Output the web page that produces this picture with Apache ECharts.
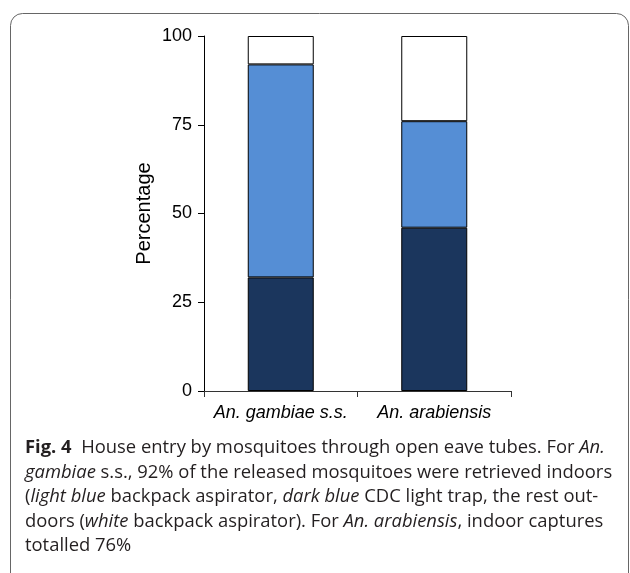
<!DOCTYPE html>
<html>
<head>
<meta charset="utf-8">
<script src="https://cdn.jsdelivr.net/npm/echarts@6/dist/echarts.min.js"></script>
<style>
html,body{margin:0;padding:0;background:#fff;}
#chart{width:630px;height:573px;}
</style>
</head>
<body>
<div id="chart"></div>
<script>
var categories = ['An. gambiae s.s.', 'An. arabiensis'];
var darkBlueCDC = [32, 46];        // dark blue: CDC light trap (indoors)
var lightBlueAspirator = [60, 30]; // light blue: backpack aspirator (indoors)
var whiteOutdoors = [8, 24];       // white: backpack aspirator (outdoors)

var captionLines = [
  '{b|Fig. 4}  House entry by mosquitoes through open eave tubes. For {i|An.}',
  '{i|gambiae} s.s., 92% of the released mosquitoes were retrieved indoors',
  '({i|light blue} backpack aspirator, {i|dark blue} CDC light trap, the rest out-',
  'doors ({i|white} backpack aspirator). For {i|An. arabiensis}, indoor captures',
  'totalled 76%'
];

var chart = echarts.init(document.getElementById('chart'), null, {renderer: 'canvas'});
var barStyle = function (c) {
  return {color: c, borderColor: '#000', borderWidth: 1};
};
var capFont = 'Open Sans';
var capSize = 18.4;
var capLH = 24.5;
chart.setOption({
  animation: false,
  backgroundColor: '#fff',
  grid: {left: 204, right: 119, top: 36, bottom: 182, containLabel: false},
  xAxis: {
    type: 'category',
    data: categories,
    axisLine: {lineStyle: {color: '#333', width: 1}},
    axisTick: {show: true, length: 6, alignWithLabel: false, lineStyle: {color: '#333'}},
    axisLabel: {interval: 0, fontFamily: 'Liberation Sans', fontSize: 18, fontStyle: 'italic', color: '#000', margin: 13}
  },
  yAxis: {
    type: 'value',
    min: 0, max: 100, interval: 25,
    name: 'Percentage',
    nameLocation: 'middle',
    nameGap: 50,
    nameTextStyle: {fontFamily: 'Liberation Sans', fontSize: 20, color: '#000'},
    axisLine: {show: true, lineStyle: {color: '#000', width: 1}},
    axisTick: {show: true, length: 6, inside: false, lineStyle: {color: '#000'}},
    splitLine: {show: false},
    axisLabel: {fontFamily: 'Liberation Sans', fontSize: 18, color: '#000', margin: 12}
  },
  series: [
    {type: 'bar', stack: 's', data: darkBlueCDC, barWidth: 66, itemStyle: barStyle('#1b365d')},
    {type: 'bar', stack: 's', data: lightBlueAspirator, barWidth: 66, itemStyle: barStyle('#558ed5')},
    {type: 'bar', stack: 's', data: whiteOutdoors, barWidth: 66, itemStyle: barStyle('#ffffff')}
  ],
  graphic: [
    {
      type: 'rect',
      shape: {x: 10.5, y: 13.5, width: 618, height: 575, r: 12},
      style: {fill: 'none', stroke: '#666', lineWidth: 1},
      silent: true
    },
    {
      type: 'text',
      left: 25,
      top: 436,
      style: {
        text: captionLines.join('\n'),
        fontFamily: capFont,
        fontSize: capSize,
        lineHeight: capLH,
        fill: '#231f20',
        rich: {
          b: {fontFamily: capFont, fontSize: capSize, fontWeight: 'bold', lineHeight: capLH, fill: '#231f20'},
          i: {fontFamily: capFont, fontSize: capSize, fontStyle: 'italic', lineHeight: capLH, fill: '#231f20'}
        }
      }
    }
  ]
});
</script>
</body>
</html>
